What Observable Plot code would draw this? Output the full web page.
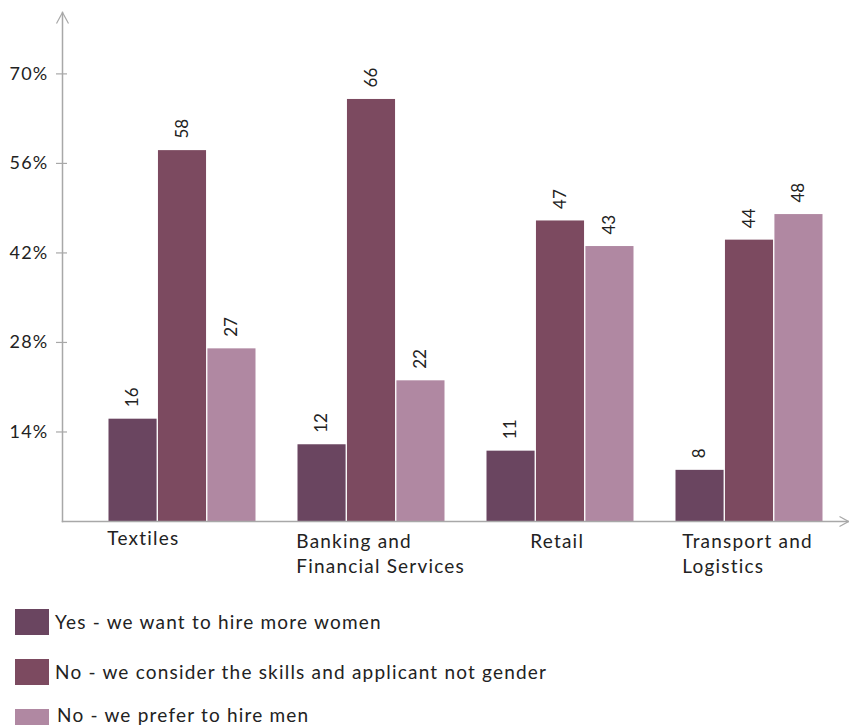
<!DOCTYPE html>
<html><head><meta charset="utf-8">
<script src="https://cdn.jsdelivr.net/npm/d3@7"></script>
<script src="https://cdn.jsdelivr.net/npm/@observablehq/plot@0.6"></script>
<style>
body{margin:0;background:#fff;font-family:Lato,sans-serif;}
#legend{padding:14px 0 0 15px}
.item{display:flex;align-items:center;height:26px;margin-bottom:24px;font-size:19px;color:#222;letter-spacing:1.2px}
.item span{position:relative;top:-1px}
.item:last-child span{top:-8px;left:2px}
.sw{width:34px;height:26px;margin-right:6px;flex:none}
</style></head><body><div id="chart"></div><div id="legend"></div>
<script>
const categories = ["Textiles", "Banking and Financial Services", "Retail", "Transport and Logistics"];
const series = ["Yes - we want to hire more women", "No - we consider the skills and applicant not gender", "No - we prefer to hire men"];
const yesValues = [16, 12, 11, 8];
const skillsValues = [58, 66, 47, 44];
const menValues = [27, 22, 43, 48];
const colors = ["#6a4560", "#7c4a60", "#b088a2"];
const yTicks = [14, 28, 42, 56, 70];

const seriesValues = [yesValues, skillsValues, menValues];
const data = series.flatMap((s, j) => categories.map((c, i) => ({category: c, series: s, j, value: seriesValues[j][i]})));

const W = 849, H = 595, ML = 62, MR = 1, MT = 12, MB = 74;
const xOpts = {domain: categories, paddingInner: 0.216, paddingOuter: 0.1847, align: 0.643};
const xb = d3.scaleBand(categories, [ML, W - MR]).paddingInner(xOpts.paddingInner).paddingOuter(xOpts.paddingOuter).align(xOpts.align);
const bw = xb.bandwidth(), third = bw / 3;

const upChevron = {draw(ctx) { ctx.moveTo(-6, 11); ctx.lineTo(0, 0); ctx.lineTo(6, 11); }};
const rightChevron = {draw(ctx) { ctx.moveTo(-9, -5); ctx.lineTo(0, 0); ctx.lineTo(-9, 5); }};
const axisColor = "#a8a8a8";

const marks = [];
series.forEach((s, j) => {
  const sub = data.filter(d => d.j === j);
  marks.push(Plot.barY(sub, {x: "category", y: "value", fill: "series", insetLeft: j * third + 0.5, insetRight: (2 - j) * third + 0.5}));
  marks.push(Plot.text(sub, {x: "category", y: "value", text: d => String(d.value), rotate: -90, textAnchor: "start", dx: (j - 1) * third, dy: -12, fontSize: 17, fill: "#222", style: "letter-spacing:1px"}));
});

// per-label horizontal offset from band start, and vertical padding (layout only)
const labelShift = [0, 0, 45, 8];
const labelPad = [5, 8, 8, 8];
const xAxes = categories.map((c, i) => Plot.axisX([c], {tickSize: 0, tickPadding: labelPad[i], textAnchor: "start", dx: -bw / 2 - 1 + labelShift[i], lineWidth: 10, lineHeight: 1.35, fontSize: 19, fill: "#222", label: null}));

const chart = Plot.plot({
  width: W, height: H,
  marginLeft: ML, marginRight: MR, marginTop: MT, marginBottom: MB,
  style: {fontFamily: "Lato, sans-serif", background: "#fff"},
  x: {...xOpts, label: null},
  y: {domain: [0, 79.6], label: null},
  color: {domain: series, range: colors},
  marks: [
    ...marks,
    Plot.frame({anchor: "left", stroke: axisColor, strokeWidth: 1.5}),
    Plot.frame({anchor: "bottom", stroke: axisColor, strokeWidth: 1.5}),
    Plot.dot([0], {frameAnchor: "top-left", symbol: upChevron, fill: "none", stroke: axisColor, strokeWidth: 1.2}),
    Plot.dot([0], {frameAnchor: "bottom-right", symbol: rightChevron, fill: "none", stroke: axisColor, strokeWidth: 1.2}),
    Plot.axisY(yTicks, {tickSize: 11, dx: 5, tickFormat: () => "", stroke: axisColor, strokeWidth: 1.2, label: null}),
    Plot.axisY(yTicks, {tickSize: 0, tickPadding: 14, tickFormat: d => d + "%", fontSize: 18, fill: "#222", label: null}),
    ...xAxes
  ]
});
document.getElementById("chart").appendChild(chart);
d3.select(chart).selectAll("g[aria-label='x-axis tick label'] text, g[aria-label='y-axis tick label'] text").style("letter-spacing", "1.2px");

const legend = d3.select("#legend");
series.forEach((s, j) => {
  const it = legend.append("div").attr("class", "item");
  it.append("div").attr("class", "sw").style("background", colors[j]);
  it.append("span").text(s);
});
</script></body></html>
